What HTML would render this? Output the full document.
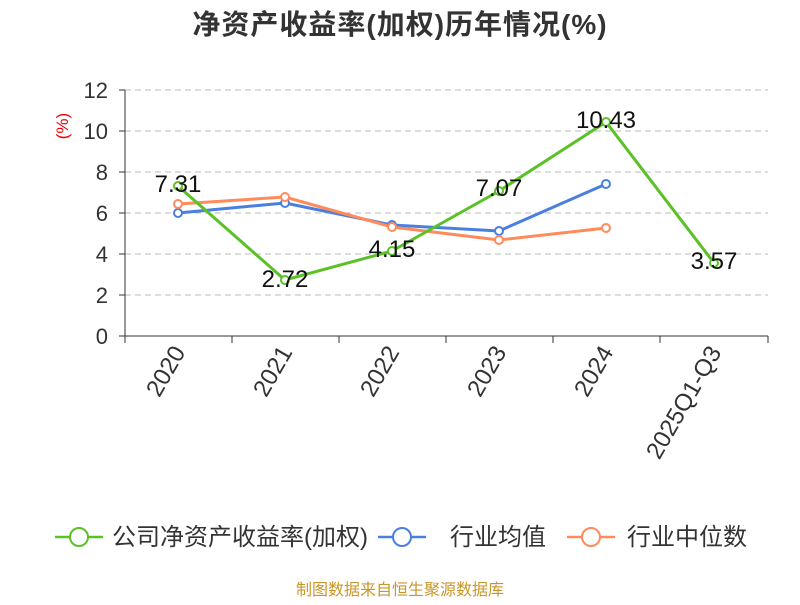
<!DOCTYPE html>
<html><head><meta charset="utf-8"><style>
body{margin:0;background:#fff;}
svg text{font-family:"Liberation Sans","Noto Sans CJK SC",sans-serif;}
</style></head><body>
<svg width="800" height="600" xmlns="http://www.w3.org/2000/svg">
<text x="400" y="34" text-anchor="middle" font-size="28" font-weight="bold" fill="#333" letter-spacing="1">净资产收益率(加权)历年情况(%)</text>
<text x="68" y="126" font-size="17" fill="#e00" transform="rotate(-90 68 126)" text-anchor="middle">(%)</text>
<g stroke="#bbb" stroke-dasharray="6,4" stroke-width="1">
<line x1="125" x2="768" y1="90" y2="90"/><line x1="125" x2="768" y1="131" y2="131"/>
<line x1="125" x2="768" y1="172" y2="172"/><line x1="125" x2="768" y1="213" y2="213"/>
<line x1="125" x2="768" y1="254" y2="254"/><line x1="125" x2="768" y1="295" y2="295"/>
</g>
<line x1="125" y1="90" x2="125" y2="336" stroke="#333"/>
<line x1="125" y1="336" x2="768" y2="336" stroke="#333"/>
<g stroke="#333">
<line x1="119" x2="125" y1="90" y2="90"/><line x1="119" x2="125" y1="131" y2="131"/><line x1="119" x2="125" y1="172" y2="172"/><line x1="119" x2="125" y1="213" y2="213"/><line x1="119" x2="125" y1="254" y2="254"/><line x1="119" x2="125" y1="295" y2="295"/><line x1="119" x2="125" y1="336" y2="336"/>
<line x1="125" x2="125" y1="336" y2="343"/><line x1="232" x2="232" y1="336" y2="343"/><line x1="339" x2="339" y1="336" y2="343"/><line x1="446" x2="446" y1="336" y2="343"/><line x1="553" x2="553" y1="336" y2="343"/><line x1="660" x2="660" y1="336" y2="343"/><line x1="768" x2="768" y1="336" y2="343"/>
</g>
<g font-size="22" fill="#333" text-anchor="end">
<text x="108" y="98">12</text><text x="108" y="139">10</text><text x="108" y="180">8</text><text x="108" y="221">6</text><text x="108" y="262">4</text><text x="108" y="303">2</text><text x="108" y="344">0</text>
</g>
<g font-size="24" fill="#333" text-anchor="end">
<text transform="translate(186,352) rotate(-60)">2020</text>
<text transform="translate(293,352) rotate(-60)">2021</text>
<text transform="translate(400,352) rotate(-60)">2022</text>
<text transform="translate(507,352) rotate(-60)">2023</text>
<text transform="translate(614,352) rotate(-60)">2024</text>
<text transform="translate(722,352) rotate(-60)">2025Q1-Q3</text>
</g>
<polyline fill="none" stroke="#4a7fe0" stroke-width="3" points="178,213 285,203 392,225 499,231 606,184"/>
<polyline fill="none" stroke="#ff8a5c" stroke-width="3" points="178,204 285,197 392,227 499,240 606,228"/>
<polyline fill="none" stroke="#5ac127" stroke-width="3" points="178,186 285,280 392,251 499,191 606,122 714,263"/>
<g fill="#fff" stroke-width="2">
<g stroke="#4a7fe0"><circle cx="178" cy="213" r="4"/><circle cx="285" cy="203" r="4"/><circle cx="392" cy="225" r="4"/><circle cx="499" cy="231" r="4"/><circle cx="606" cy="184" r="4"/></g>
<g stroke="#ff8a5c"><circle cx="178" cy="204" r="4"/><circle cx="285" cy="197" r="4"/><circle cx="392" cy="227" r="4"/><circle cx="499" cy="240" r="4"/><circle cx="606" cy="228" r="4"/></g>
<g stroke="#5ac127"><circle cx="178" cy="186" r="4"/><circle cx="285" cy="280" r="4"/><circle cx="392" cy="251" r="4"/><circle cx="499" cy="191" r="4"/><circle cx="606" cy="122" r="4"/><circle cx="714" cy="263" r="4"/></g>
</g>
<g font-size="24" fill="#111" text-anchor="middle">
<text x="178" y="192">7.31</text><text x="285" y="287">2.72</text><text x="392" y="257">4.15</text><text x="499" y="196">7.07</text><text x="606" y="128">10.43</text><text x="714" y="269">3.57</text>
</g>
<g font-size="24" fill="#333">
<line x1="55" x2="103" y1="537" y2="537" stroke="#5ac127" stroke-width="2.5"/><circle cx="79" cy="537" r="9" fill="#fff" stroke="#5ac127" stroke-width="2"/>
<text x="112" y="545">公司净资产收益率(加权)</text>
<line x1="378" x2="426" y1="537" y2="537" stroke="#4a7fe0" stroke-width="2.5"/><circle cx="402" cy="537" r="9" fill="#fff" stroke="#4a7fe0" stroke-width="2"/>
<text x="450" y="545">行业均值</text>
<line x1="567" x2="615" y1="537" y2="537" stroke="#ff8a5c" stroke-width="2.5"/><circle cx="591" cy="537" r="9" fill="#fff" stroke="#ff8a5c" stroke-width="2"/>
<text x="627" y="545">行业中位数</text>
</g>
<text x="400" y="595" text-anchor="middle" font-size="16" fill="#c9962a">制图数据来自恒生聚源数据库</text>
</svg>
</body></html>
